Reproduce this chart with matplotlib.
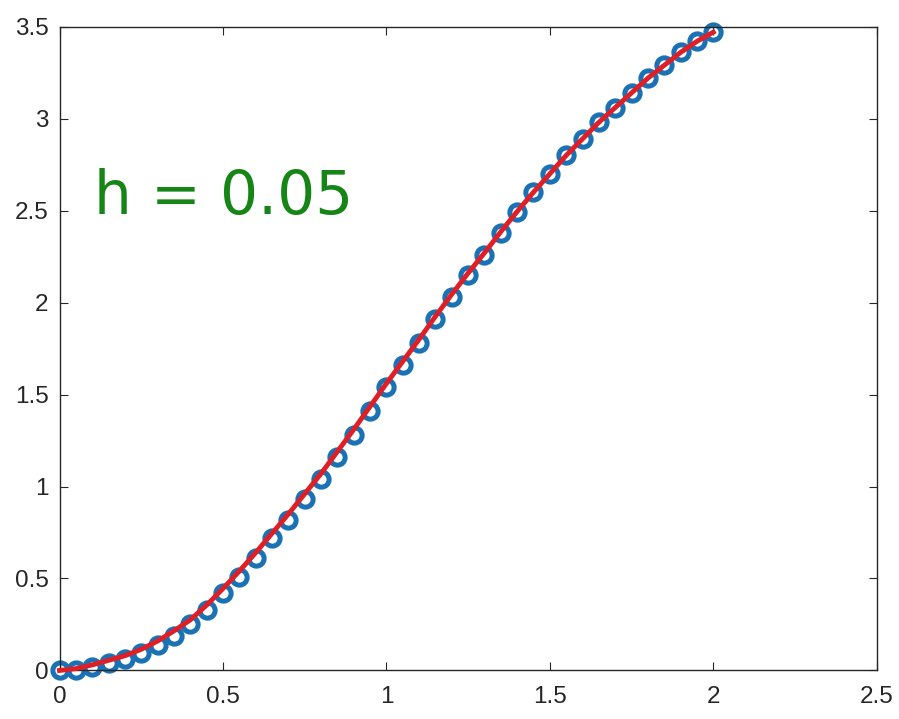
import matplotlib.pyplot as plt

# step h = 0.05 on [0, 2]
x_values = [0.00, 0.05, 0.10, 0.15, 0.20, 0.25, 0.30, 0.35, 0.40, 0.45,
            0.50, 0.55, 0.60, 0.65, 0.70, 0.75, 0.80, 0.85, 0.90, 0.95,
            1.00, 1.05, 1.10, 1.15, 1.20, 1.25, 1.30, 1.35, 1.40, 1.45,
            1.50, 1.55, 1.60, 1.65, 1.70, 1.75, 1.80, 1.85, 1.90, 1.95,
            2.00]

# numerical solution (blue circles)
approx_values = [0.00, 0.005, 0.02, 0.04, 0.065, 0.095, 0.14, 0.19, 0.25, 0.33,
                 0.42, 0.51, 0.61, 0.72, 0.82, 0.93, 1.04, 1.16, 1.28, 1.41,
                 1.54, 1.66, 1.78, 1.91, 2.03, 2.15, 2.26, 2.38, 2.49, 2.60,
                 2.70, 2.80, 2.89, 2.98, 3.06, 3.14, 3.22, 3.29, 3.36, 3.42,
                 3.47]

# reference curve (red line)
exact_values = [0.00, 0.01, 0.03, 0.055, 0.08, 0.115, 0.16, 0.215, 0.275, 0.355,
                0.445, 0.54, 0.64, 0.745, 0.85, 0.96, 1.07, 1.19, 1.31, 1.435,
                1.56, 1.68, 1.80, 1.925, 2.045, 2.16, 2.27, 2.385, 2.495, 2.60,
                2.70, 2.80, 2.89, 2.98, 3.06, 3.14, 3.22, 3.29, 3.36, 3.42,
                3.47]

x_ticks = [0, 0.5, 1, 1.5, 2, 2.5]
x_tick_labels = ['0', '0.5', '1', '1.5', '2', '2.5']
y_ticks = [0, 0.5, 1, 1.5, 2, 2.5, 3, 3.5]
y_tick_labels = ['0', '0.5', '1', '1.5', '2', '2.5', '3', '3.5']

fig = plt.figure(figsize=(8.99, 7.19), dpi=100)
ax = fig.add_axes([0.0662, 0.0675, 0.9090, 0.8954])

ax.plot(x_values, approx_values, 'o', markersize=11, markerfacecolor='none',
        markeredgecolor='#1a72b5', markeredgewidth=3.6, color='#1a72b5',
        clip_on=False, zorder=2)
ax.plot(x_values, exact_values, '-', color='#e01e26', linewidth=3.5,
        clip_on=False, zorder=3)

# handwritten note
ax.text(0.105, 2.48, 'h = 0.05', color='#158515', fontsize=43,
        va='baseline', ha='left')

ax.set_xlim(0, 2.5)
ax.set_ylim(0, 3.5)
ax.set_xticks(x_ticks)
ax.set_xticklabels(x_tick_labels)
ax.set_yticks(y_ticks)
ax.set_yticklabels(y_tick_labels)

ax.tick_params(direction='in', top=True, right=True, length=6, width=0.8,
               color='#262626', labelcolor='#262626', labelsize=17.5)
ax.tick_params(axis='x', pad=11)
ax.tick_params(axis='y', pad=8)
for label in ax.get_xticklabels() + ax.get_yticklabels():
    label.set_family('Liberation Sans')

for spine in ax.spines.values():
    spine.set_color('#262626')
    spine.set_linewidth(1.0)

fig.savefig('out.png', dpi=100)
